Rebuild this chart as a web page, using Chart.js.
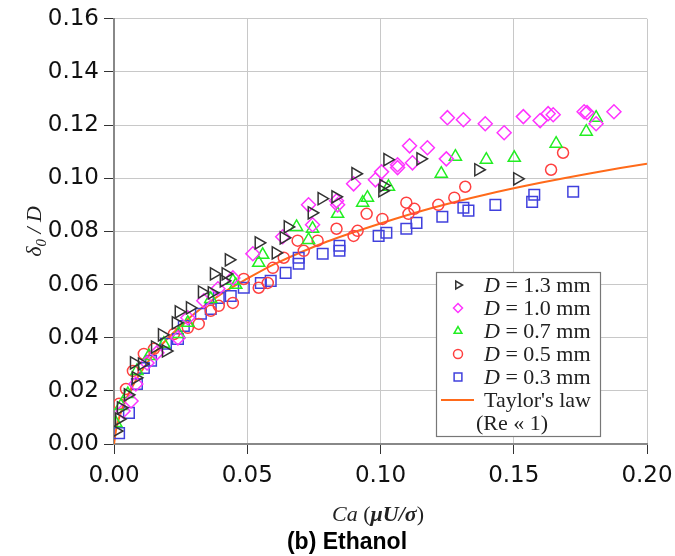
<!DOCTYPE html>
<html>
<head>
<meta charset="utf-8">
<script src="https://cdn.jsdelivr.net/npm/chart.js@4.4.1/dist/chart.umd.min.js"></script>
<style>
  html, body { margin: 0; padding: 0; background: #fff; }
  #wrap { width: 675px; height: 556px; }
</style>
</head>
<body>
<div id="wrap"><canvas id="myChart" width="675" height="556"></canvas></div>
<script>
// D = 1.3 mm
let d13Ca = [0.0007, 0.0019, 0.0026, 0.0052, 0.0082, 0.0075, 0.0105, 0.0154, 0.0195, 0.0180, 0.0232, 0.0243, 0.0285, 0.0330, 0.0367, 0.0375, 0.0419, 0.0412, 0.0431, 0.0543, 0.0607, 0.0652, 0.0637, 0.0742, 0.0779, 0.0831, 0.0906, 0.1007, 0.1011, 0.1026, 0.1150, 0.1367, 0.1513];
let d13Delta = [0.0049, 0.0094, 0.0136, 0.0185, 0.0249, 0.0305, 0.0301, 0.0365, 0.0350, 0.0411, 0.0456, 0.0497, 0.0512, 0.0572, 0.0569, 0.0640, 0.0640, 0.0614, 0.0693, 0.0757, 0.0719, 0.0817, 0.0776, 0.0870, 0.0923, 0.0930, 0.1017, 0.0953, 0.0972, 0.1070, 0.1073, 0.1032, 0.0998];

// D = 1.0 mm
let d10Ca = [0.0034, 0.0064, 0.0082, 0.0124, 0.0161, 0.0240, 0.0277, 0.0337, 0.0390, 0.0446, 0.0521, 0.0633, 0.0745, 0.0730, 0.0835, 0.0839, 0.0899, 0.0981, 0.1004, 0.1064, 0.1064, 0.1120, 0.1109, 0.1176, 0.1247, 0.1251, 0.1311, 0.1393, 0.1464, 0.1536, 0.1599, 0.1629, 0.1648, 0.1764, 0.1775, 0.1809, 0.1876];
let d10Delta = [0.0124, 0.0162, 0.0226, 0.0305, 0.0343, 0.0399, 0.0475, 0.0539, 0.0584, 0.0625, 0.0716, 0.0780, 0.0825, 0.0900, 0.0915, 0.0900, 0.0979, 0.0994, 0.1024, 0.1051, 0.1040, 0.1058, 0.1122, 0.1115, 0.1073, 0.1228, 0.1220, 0.1205, 0.1171, 0.1232, 0.1217, 0.1243, 0.1239, 0.1250, 0.1247, 0.1205, 0.1250];

// D = 0.7 mm
let d07Ca = [0.0007, 0.0026, 0.0052, 0.0086, 0.0131, 0.0187, 0.0243, 0.0277, 0.0363, 0.0446, 0.0457, 0.0543, 0.0558, 0.0685, 0.0730, 0.0745, 0.0839, 0.0933, 0.0951, 0.1030, 0.1228, 0.1281, 0.1397, 0.1502, 0.1659, 0.1772, 0.1809];
let d07Delta = [0.0079, 0.0143, 0.0188, 0.0275, 0.0331, 0.0377, 0.0414, 0.0456, 0.0546, 0.0614, 0.0599, 0.0682, 0.0712, 0.0817, 0.0768, 0.0810, 0.0866, 0.0908, 0.0927, 0.0968, 0.1017, 0.1081, 0.1070, 0.1077, 0.1130, 0.1175, 0.1228];

// D = 0.5 mm
let d05Ca = [0.0019, 0.0045, 0.0071, 0.0112, 0.0150, 0.0225, 0.0277, 0.0318, 0.0363, 0.0393, 0.0446, 0.0487, 0.0543, 0.0577, 0.0596, 0.0637, 0.0689, 0.0712, 0.0764, 0.0835, 0.0899, 0.0914, 0.0948, 0.1007, 0.1097, 0.1105, 0.1127, 0.1217, 0.1277, 0.1318, 0.1640, 0.1685];
let d05Delta = [0.0151, 0.0207, 0.0275, 0.0339, 0.0358, 0.0414, 0.0437, 0.0452, 0.0501, 0.0520, 0.0531, 0.0621, 0.0588, 0.0606, 0.0663, 0.0701, 0.0765, 0.0727, 0.0765, 0.0810, 0.0783, 0.0802, 0.0866, 0.0847, 0.0908, 0.0866, 0.0885, 0.0900, 0.0927, 0.0968, 0.1032, 0.1096];

// D = 0.3 mm
let d03Ca = [0.0019, 0.0056, 0.0086, 0.0112, 0.0139, 0.0195, 0.0240, 0.0262, 0.0326, 0.0363, 0.0393, 0.0438, 0.0487, 0.0551, 0.0588, 0.0644, 0.0693, 0.0693, 0.0783, 0.0846, 0.0846, 0.0993, 0.1022, 0.1097, 0.1135, 0.1232, 0.1311, 0.1330, 0.1431, 0.1569, 0.1577, 0.1723];
let d03Delta = [0.0041, 0.0117, 0.0226, 0.0286, 0.0313, 0.0377, 0.0395, 0.0444, 0.0490, 0.0508, 0.0550, 0.0557, 0.0588, 0.0606, 0.0614, 0.0644, 0.0701, 0.0678, 0.0716, 0.0746, 0.0727, 0.0783, 0.0795, 0.0810, 0.0832, 0.0855, 0.0889, 0.0878, 0.0900, 0.0911, 0.0938, 0.0949];

// Taylor's law curve
let taylorCa = [0, 0.001, 0.002, 0.004, 0.007, 0.01, 0.015, 0.02, 0.03, 0.04, 0.05, 0.06, 0.08, 0.10, 0.12, 0.14, 0.16, 0.18, 0.20];
let taylorDelta = [0, 0.0065, 0.0101, 0.0156, 0.0218, 0.0269, 0.0339, 0.0396, 0.0489, 0.0563, 0.0622, 0.0676, 0.0762, 0.0830, 0.0890, 0.0940, 0.0983, 0.1021, 0.1055];

let legendLabels = ['1.3 mm', '1.0 mm', '0.7 mm', '0.5 mm', '0.3 mm'];

function toPoints(xs, ys) {
    return xs.map(function (x, i) { return { x: x, y: ys[i] }; });
}

function markerSet(label, xs, ys, color, style, rot, r) {
    return {
        type: 'scatter',
        label: label,
        data: toPoints(xs, ys),
        pointStyle: style,
        rotation: rot,
        radius: r,
        pointRadius: r,
        pointHoverRadius: r,
        borderColor: color,
        backgroundColor: 'rgba(0,0,0,0)',
        pointBorderWidth: 1.5,
        borderWidth: 1.5
    };
}

const datasets = [
    markerSet('D = 1.3 mm', d13Ca, d13Delta, '#333333', 'triangle', 90, 7),
    markerSet('D = 1.0 mm', d10Ca, d10Delta, '#ff33ff', 'rectRot', 0, 7),
    markerSet('D = 0.7 mm', d07Ca, d07Delta, '#22ee22', 'triangle', 0, 7),
    markerSet('D = 0.5 mm', d05Ca, d05Delta, '#ff4040', 'circle', 0, 5.5),
    markerSet('D = 0.3 mm', d03Ca, d03Delta, '#4040dd', 'rect', 0, 7.5),
    {
        type: 'line',
        label: "Taylor's law",
        data: toPoints(taylorCa, taylorDelta),
        borderColor: '#ff6a1a',
        borderWidth: 2,
        pointRadius: 0,
        tension: 0.3,
        fill: false
    }
];

// extra texts: axis titles, caption and the boxed legend
const decorations = {
    id: 'decorations',
    afterDraw(chart) {
        const ctx = chart.ctx;
        const area = chart.chartArea;
        ctx.save();
        ctx.fillStyle = '#222';
        ctx.textBaseline = 'alphabetic';

        // y title: delta_0 / D
        ctx.save();
        ctx.translate(41, (area.top + area.bottom) / 2);
        ctx.rotate(-Math.PI / 2);
        const big = 'italic 22px "Liberation Serif"';
        const small = 'italic 15px "Liberation Serif"';
        ctx.font = big;
        let w1 = ctx.measureText('δ').width;
        ctx.font = small;
        let w2 = ctx.measureText('0').width;
        ctx.font = big;
        let w3 = ctx.measureText(' / D').width;
        let sx = -(w1 + w2 + w3) / 2;
        ctx.textAlign = 'left';
        ctx.fillText('δ', sx, 0);
        ctx.font = small;
        ctx.fillText('0', sx + w1, 5);
        ctx.font = big;
        ctx.fillText(' / D', sx + w1 + w2, 0);
        ctx.restore();

        // x title: Ca (muU/sigma)
        const parts = [
            ['Ca', 'italic 22px "Liberation Serif"'],
            [' (', '22px "Liberation Serif"'],
            ['μU/σ', 'italic bold 22px "Liberation Serif"'],
            [')', '22px "Liberation Serif"']
        ];
        let total = 0;
        parts.forEach(function (p) { ctx.font = p[1]; total += ctx.measureText(p[0]).width; });
        let px = 378 - total / 2;
        ctx.textAlign = 'left';
        parts.forEach(function (p) {
            ctx.font = p[1];
            ctx.fillText(p[0], px, 521);
            px += ctx.measureText(p[0]).width;
        });

        // caption
        ctx.fillStyle = '#000';
        ctx.font = 'bold 23px "Liberation Sans"';
        ctx.textAlign = 'center';
        ctx.fillText('(b) Ethanol', 347, 549);

        // legend box
        const bx = 436, by = 272, bw = 164, bh = 164;
        ctx.fillStyle = '#fff';
        ctx.fillRect(bx, by, bw, bh);
        ctx.strokeStyle = '#777';
        ctx.lineWidth = 1.2;
        ctx.strokeRect(bx + 0.5, by + 0.5, bw, bh);

        const rows = [285, 308, 331, 354, 377, 400, 423];
        for (let i = 0; i < 5; i++) {
            const ds = chart.data.datasets[i];
            const opts = {
                pointStyle: ds.pointStyle,
                rotation: ds.rotation,
                radius: ds.pointStyle === 'rect' ? 5.5 : 4.5,
                borderWidth: 1.5
            };
            ctx.strokeStyle = ds.borderColor;
            ctx.fillStyle = 'rgba(0,0,0,0)';
            ctx.lineWidth = 1.5;
            Chart.helpers.drawPoint(ctx, opts, 458, rows[i]);
            ctx.fillStyle = '#222';
            ctx.textAlign = 'left';
            ctx.font = 'italic 22px "Liberation Serif"';
            ctx.fillText('D', 484, rows[i] + 7);
            let dw = ctx.measureText('D').width;
            ctx.font = '22px "Liberation Serif"';
            ctx.fillText(' = ' + legendLabels[i], 484 + dw, rows[i] + 7);
        }
        ctx.strokeStyle = '#ff6a1a';
        ctx.lineWidth = 2;
        ctx.beginPath();
        ctx.moveTo(441, rows[5]);
        ctx.lineTo(474, rows[5]);
        ctx.stroke();
        ctx.fillStyle = '#222';
        ctx.font = '22px "Liberation Serif"';
        ctx.fillText("Taylor's law", 484, rows[5] + 7);
        ctx.fillText('(Re « 1)', 476, rows[6] + 7);
        ctx.restore();
    }
};

const chart = new Chart(document.getElementById('myChart').getContext('2d'), {
    type: 'scatter',
    data: { datasets: datasets },
    options: {
        responsive: false,
        animation: false,
        devicePixelRatio: 1,
        layout: { padding: { top: 18, right: 28, left: 0, bottom: 0 } },
        plugins: {
            legend: { display: false },
            tooltip: { enabled: false }
        },
        scales: {
            x: {
                type: 'linear',
                min: 0,
                max: 0.2,
                afterFit: function (s) { s.height = 112; s.paddingRight = 0; },
                ticks: {
                    stepSize: 0.05,
                    padding: 8,
                    color: '#111',
                    font: { family: 'DejaVu Sans', size: 23 },
                    callback: function (v) { return v.toFixed(2); }
                },
                grid: { color: '#c8c8c8', lineWidth: 1, tickColor: '#333', tickLength: 10 },
                border: { color: '#888', width: 2 }
            },
            y: {
                type: 'linear',
                min: 0,
                max: 0.16,
                afterFit: function (s) { s.width = 114; },
                ticks: {
                    stepSize: 0.02,
                    padding: 5,
                    color: '#111',
                    font: { family: 'DejaVu Sans', size: 23 },
                    callback: function (v) { return v.toFixed(2); }
                },
                grid: { color: '#c8c8c8', lineWidth: 1, tickColor: '#333', tickLength: 10 },
                border: { color: '#888', width: 2 }
            }
        }
    },
    plugins: [decorations]
});
</script>
</body>
</html>
